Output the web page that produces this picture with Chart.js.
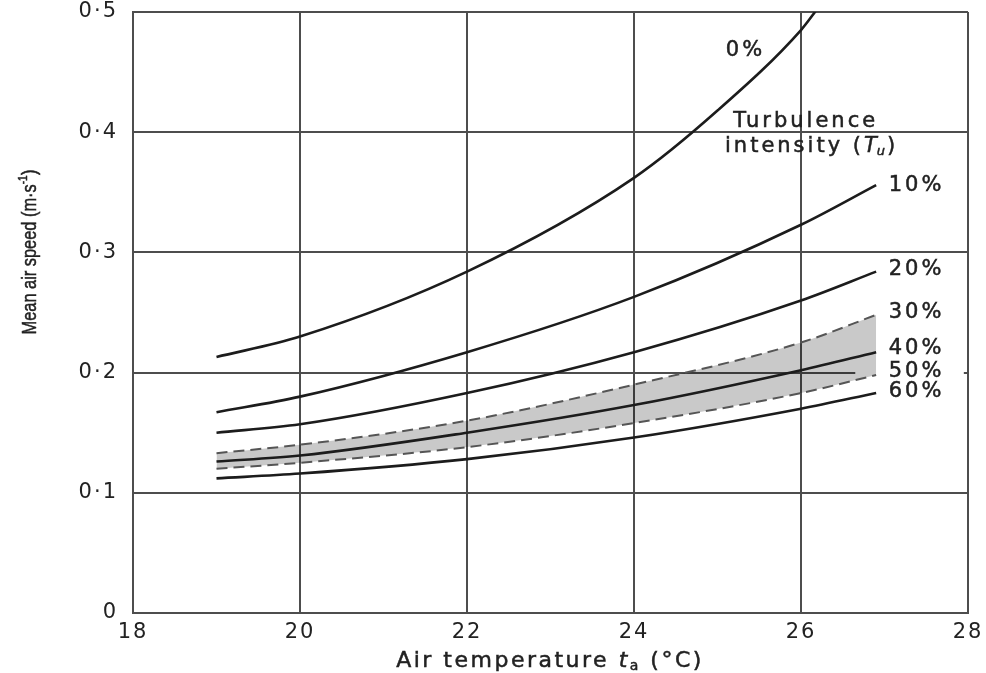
<!DOCTYPE html>
<html>
<head>
<meta charset="utf-8">
<script src="https://cdn.jsdelivr.net/npm/chart.js@4.4.1/dist/chart.umd.min.js"></script>
<style>
  html, body { margin: 0; padding: 0; background: #fff; }
  #wrap { width: 986px; height: 673px; }
</style>
</head>
<body>
<div id="wrap"><canvas id="chart" width="986" height="673"></canvas></div>
<script>
// values
const temps = [19, 20, 22, 24, 26, 26.9];
const temps0 = [19, 20, 22, 24, 25, 26, 26.2];
const tu0 = [0.213, 0.230, 0.284, 0.362, 0.418, 0.485, 0.503];
const tu10 = [0.167, 0.180, 0.217, 0.263, 0.323, 0.356];
const tu20 = [0.150, 0.157, 0.183, 0.217, 0.260, 0.284];
const tu30 = [0.133, 0.140, 0.160, 0.190, 0.225, 0.248];
const tu40 = [0.126, 0.131, 0.150, 0.173, 0.202, 0.217];
const tu50 = [0.120, 0.125, 0.138, 0.158, 0.183, 0.198];
const tu60 = [0.112, 0.116, 0.128, 0.146, 0.170, 0.183];

const xTicks = [18, 20, 22, 24, 26, 28];
const yTickLabels = ['0', '0·1', '0·2', '0·3', '0·4', '0·5'];

// curve labels, placed in data coordinates [x, y, text]
const curveLabels = [
  [25.1, 0.468, '0%'],
  [27.05, 0.356, '10%'],
  [27.05, 0.286, '20%'],
  [27.05, 0.250, '30%'],
  [27.05, 0.220, '40%'],
  [27.05, 0.2005, '50%'],
  [27.05, 0.184, '60%']
];

function pts(xs, ys) {
  return xs.map((x, i) => ({ x: x, y: ys[i] }));
}

const ink = '#1c1c1c';
const gridInk = '#4d4d4d';
const textInk = '#222';

function solid(label, data, order) {
  return { label: label, data: data, borderColor: ink, borderWidth: 2.6, order: order || 0,
    pointRadius: 0, tension: 0.4, cubicInterpolationMode: 'monotone', fill: false };
}
function dashed(label, data, fill, order) {
  return { label: label, data: data, borderColor: '#555', borderWidth: 2, order: order || 0,
    borderDash: [11, 6], pointRadius: 0, tension: 0.4, cubicInterpolationMode: 'monotone',
    fill: fill, backgroundColor: 'rgba(0,0,0,0.21)' };
}

// fill and slightly thicken text so it looks like the scanned original
function txt(ctx, s, x, y) {
  ctx.fillText(s, x, y);
  ctx.strokeText(s, x, y);
}

const labelPlugin = {
  id: 'curveLabels',
  beforeDraw(chart) {
    chart.ctx.letterSpacing = '2px';
  },
  beforeDatasetsDraw(chart) {
    // the 0.2 grid line is broken where the 50% label sits
    const ctx = chart.ctx;
    const xs = chart.scales.x, ys = chart.scales.y;
    const py = ys.getPixelForValue(0.2);
    const x0 = xs.getPixelForValue(26.65), x1 = xs.getPixelForValue(27.95);
    ctx.save();
    ctx.fillStyle = '#fff';
    ctx.fillRect(x0, py - 3, x1 - x0, 6);
    ctx.restore();
  },
  afterDatasetsDraw(chart) {
    const ctx = chart.ctx;
    const xs = chart.scales.x, ys = chart.scales.y;
    ctx.save();
    ctx.letterSpacing = '3px';
    ctx.font = '21px "DejaVu Sans", sans-serif';
    ctx.textBaseline = 'middle';
    ctx.textAlign = 'left';
    ctx.fillStyle = textInk;
    ctx.strokeStyle = textInk;
    ctx.lineWidth = 0.5;
    curveLabels.forEach(l => {
      txt(ctx, l[2], xs.getPixelForValue(l[0]), ys.getPixelForValue(l[1]));
    });
    // heading for the set of curves
    txt(ctx, 'Turbulence', xs.getPixelForValue(25.19), ys.getPixelForValue(0.409));
    const ix = xs.getPixelForValue(25.09);
    const iy = ys.getPixelForValue(0.388);
    const part = 'intensity (';
    txt(ctx, part, ix, iy);
    let cx = ix + ctx.measureText(part).width;
    ctx.font = 'italic 21px "DejaVu Sans", sans-serif';
    txt(ctx, 'T', cx, iy);
    cx += ctx.measureText('T').width - 3;
    ctx.font = 'italic 13px "DejaVu Sans", sans-serif';
    ctx.letterSpacing = '0px';
    txt(ctx, 'u', cx, iy + 5);
    cx += ctx.measureText('u').width + 2;
    ctx.font = '21px "DejaVu Sans", sans-serif';
    txt(ctx, ')', cx, iy);

    // x axis title
    ctx.letterSpacing = '2.5px';
    const a = 'Air temperature ', b = ' (°C)';
    ctx.font = '22px "DejaVu Sans", sans-serif';
    const wa = ctx.measureText(a).width, wb = ctx.measureText(b).width;
    ctx.font = 'italic 22px "DejaVu Sans", sans-serif';
    const wt = ctx.measureText('t').width;
    ctx.font = '14px "DejaVu Sans", sans-serif';
    const ws = ctx.measureText('a').width;
    let tx = 550 - (wa + wt + ws + wb) / 2;
    const ty = 661;
    ctx.font = '22px "DejaVu Sans", sans-serif';
    txt(ctx, a, tx, ty); tx += wa;
    ctx.font = 'italic 22px "DejaVu Sans", sans-serif';
    txt(ctx, 't', tx, ty); tx += wt;
    ctx.font = '14px "DejaVu Sans", sans-serif';
    txt(ctx, 'a', tx, ty + 5); tx += ws;
    ctx.font = '22px "DejaVu Sans", sans-serif';
    txt(ctx, b, tx, ty);

    // y axis title, condensed
    ctx.letterSpacing = '0px';
    ctx.translate(30, 250);
    ctx.rotate(-Math.PI / 2);
    ctx.scale(0.78, 1);
    ctx.textAlign = 'center';
    ctx.font = '21px "Liberation Sans", sans-serif';
    const yt = 'Mean air speed (m·s';
    const wy = ctx.measureText(yt).width;
    txt(ctx, yt, -12, 0);
    ctx.font = '13px "Liberation Sans", sans-serif';
    ctx.textAlign = 'left';
    txt(ctx, '-1', -12 + wy / 2, -7);
    ctx.font = '21px "Liberation Sans", sans-serif';
    txt(ctx, ')', -12 + wy / 2 + 12, 0);
    ctx.restore();
  }
};

new Chart(document.getElementById('chart'), {
  type: 'line',
  data: {
    datasets: [
      solid('0%', pts(temps0, tu0)),
      solid('10%', pts(temps, tu10)),
      solid('20%', pts(temps, tu20)),
      dashed('30%', pts(temps, tu30), '+2'),
      solid('40%', pts(temps, tu40), -1),
      dashed('50%', pts(temps, tu50), false, -1),
      solid('60%', pts(temps, tu60))
    ]
  },
  options: {
    responsive: false,
    animation: false,
    layout: { padding: { top: 12, right: 18, left: 0, bottom: 0 } },
    plugins: {
      legend: { display: false },
      tooltip: { enabled: false },
      filler: { drawTime: 'beforeDatasetDraw' }
    },
    scales: {
      x: {
        type: 'linear', min: 18, max: 28,
        afterBuildTicks: s => { s.ticks = xTicks.map(v => ({ value: v })); },
        afterFit: s => { s.height = 60; s.paddingLeft = 0; s.paddingRight = 0; },
        grid: { color: gridInk, lineWidth: 2, drawTicks: false },
        border: { color: gridInk, width: 2 },
        ticks: { color: textInk, padding: 7, font: { family: 'DejaVu Sans', size: 21 } }
      },
      y: {
        min: 0, max: 0.5,
        afterBuildTicks: s => { s.ticks = yTickLabels.map((t, i) => ({ value: i / 10 })); },
        afterFit: s => { s.width = 133; s.paddingTop = 0; s.paddingBottom = 0; },
        grid: { color: gridInk, lineWidth: 2, drawTicks: false },
        border: { color: gridInk, width: 2 },
        ticks: {
          color: textInk, padding: 15, font: { family: 'DejaVu Sans', size: 21 },
          callback: (v, i) => yTickLabels[i]
        }
      }
    }
  },
  plugins: [labelPlugin]
});
</script>
</body>
</html>
